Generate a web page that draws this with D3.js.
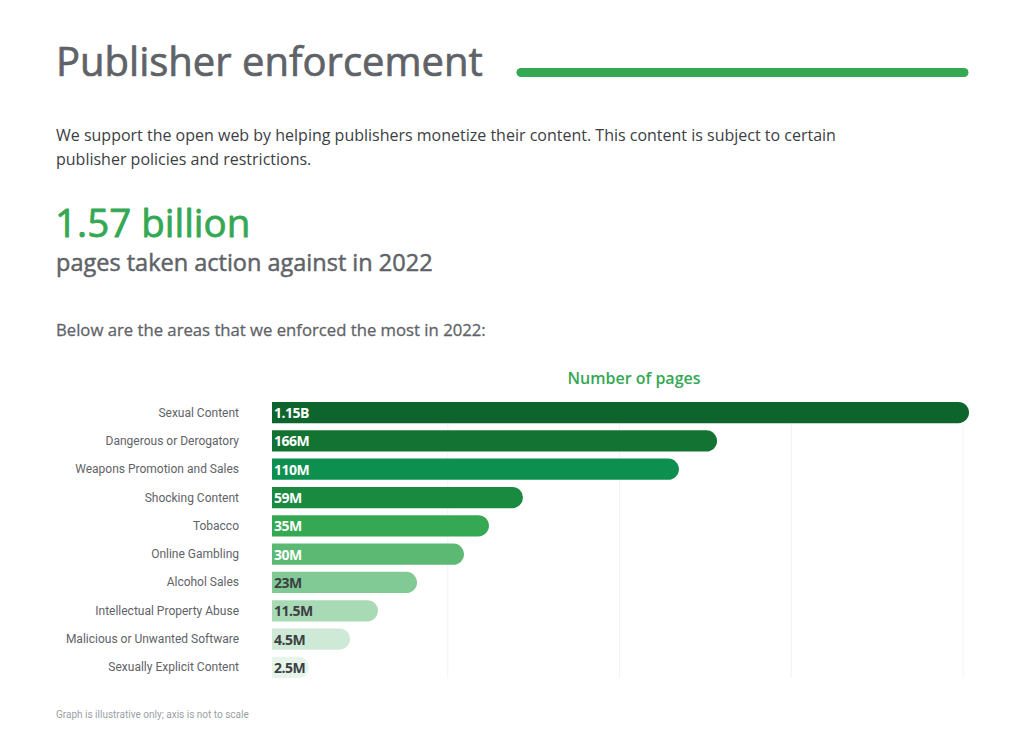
<!DOCTYPE html>
<html><head><meta charset="utf-8">
<script src="https://cdn.jsdelivr.net/npm/d3@7"></script>
<style>
html,body{margin:0;padding:0;background:#fff;}
svg{display:block;font-family:Roboto,"Open Sans",sans-serif;}
</style></head>
<body>
<svg id="chart" width="1024" height="751"></svg>
<script>
// ---- data ----
const categories = ["Sexual Content","Dangerous or Derogatory","Weapons Promotion and Sales","Shocking Content","Tobacco","Online Gambling","Alcohol Sales","Intellectual Property Abuse","Malicious or Unwanted Software","Sexually Explicit Content"];
const valueLabels = ["1.15B","166M","110M","59M","35M","30M","23M","11.5M","4.5M","2.5M"];
// illustrative bar lengths (axis is not to scale), in grid units
const displayLengths = [4.035,2.568,2.346,1.438,1.240,1.095,0.821,0.594,0.431,0.192];
const gridTicks = [1,2,3,4];
const barColors = ["#0d652d","#137333","#0d904f","#1a8a40","#34a853","#5bb974","#81c995","#a8dab5","#ceead6","#e6f4ea"];
const labelColors = ["#fff","#fff","#fff","#fff","#fff","#fff","#3c4043","#3c4043","#3c4043","#3c4043"];

const svg = d3.select("#chart");
const OS = "'Open Sans',Roboto,sans-serif";

function heavy(sel, color, w){ return sel.attr("fill",color).attr("stroke",color).attr("stroke-width",w).attr("stroke-linejoin","round"); }

// header
heavy(svg.append("text").attr("x",56).attr("y",76).attr("font-size",40)
  .attr("font-family",OS).attr("letter-spacing",0).text("Publisher enforcement"), "#5f6368", 0.7);
svg.append("line").attr("x1",521).attr("x2",964).attr("y1",72.5).attr("y2",72.5)
  .attr("stroke","#34a853").attr("stroke-width",9).attr("stroke-linecap","round");
svg.append("text").attr("x",56).attr("y",141).attr("font-size",16).attr("fill","#3c4043").attr("font-family",OS)
  .text("We support the open web by helping publishers monetize their content. This content is subject to certain");
svg.append("text").attr("x",56).attr("y",165).attr("font-size",16).attr("fill","#3c4043").attr("font-family",OS)
  .text("publisher policies and restrictions.");
heavy(svg.append("text").attr("x",55).attr("y",237).attr("font-size",38.5)
  .attr("font-family",OS).attr("letter-spacing",0).text("1.57 billion"), "#34a853", 0.8);
heavy(svg.append("text").attr("x",56).attr("y",271).attr("font-size",23.5)
  .attr("font-family",OS).text("pages taken action against in 2022"), "#5f6368", 0.5);
heavy(svg.append("text").attr("x",56).attr("y",336).attr("font-size",16.7)
  .attr("font-family",OS).text("Below are the areas that we enforced the most in 2022:"), "#5f6368", 0.3);

// chart
const x = d3.scaleLinear().domain([0,4]).range([276,963]);
const y = d3.scaleBand().domain(categories).range([402,678]).paddingInner(0.25).paddingOuter(0);
const bleed = 4;

svg.append("text").attr("x",634).attr("y",384).attr("text-anchor","middle")
  .attr("font-size",16).attr("font-weight",600).attr("fill","#34a853")
  .attr("font-family",OS).text("Number of pages");

svg.append("g").selectAll("line").data(gridTicks).join("line")
  .attr("x1",d=>x(d)).attr("x2",d=>x(d)).attr("y1",404).attr("y2",678)
  .attr("stroke","#f1f3f4").attr("stroke-width",1);

const bh = y.bandwidth();
function barPath(i){
  const x0 = x(0)-bleed, x1 = x(displayLengths[i]), y0 = y(categories[i]);
  const r = Math.min(bh/2, (x1-x0));
  return `M${x0},${y0}H${x1-r}A${r},${r} 0 0 1 ${x1},${y0+r}V${y0+bh-r}A${r},${r} 0 0 1 ${x1-r},${y0+bh}H${x0}Z`;
}
svg.append("g").selectAll("path").data(categories).join("path")
  .attr("d",(d,i)=>barPath(i)).attr("fill",(d,i)=>barColors[i]);

svg.append("g").selectAll("text").data(valueLabels).join("text")
  .attr("x",x(0)-bleed+2).attr("y",(d,i)=>y(categories[i])+bh/2+5.5)
  .attr("font-size",14).attr("font-weight",700).attr("fill",(d,i)=>labelColors[i])
  .attr("font-family",OS).attr("letter-spacing",-0.5).text(d=>d);

svg.append("g").selectAll("text").data(categories).join("text")
  .attr("x",239).attr("y",d=>y(d)+bh/2+4).attr("text-anchor","end")
  .attr("font-size",12).attr("fill","#5f6368").text(d=>d);

svg.append("text").attr("x",56).attr("y",718).attr("font-size",10).attr("fill","#9aa0a6")
  .text("Graph is illustrative only; axis is not to scale");
</script>
</body></html>
